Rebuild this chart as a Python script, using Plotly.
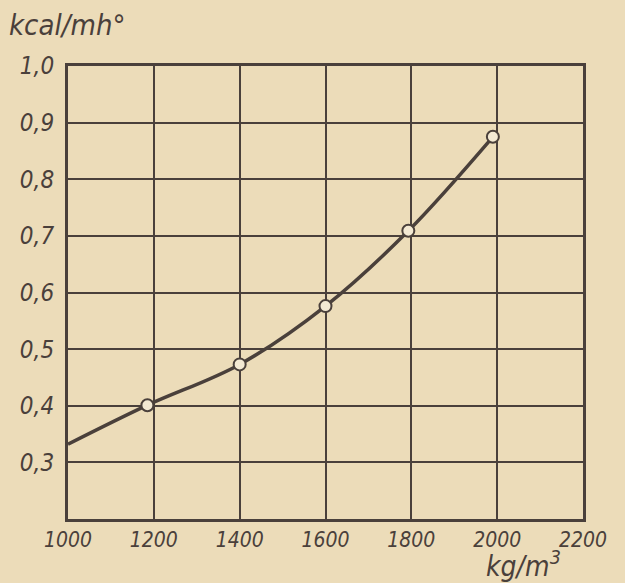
import plotly.graph_objects as go

# data
curve_x = [1000, 1185, 1400, 1600, 1793, 1990]
curve_y = [0.332, 0.401, 0.473, 0.576, 0.709, 0.875]
point_x = [1185, 1400, 1600, 1793, 1990]
point_y = [0.401, 0.473, 0.576, 0.709, 0.875]

x_ticks = [1000, 1200, 1400, 1600, 1800, 2000, 2200]
y_ticks = [0.3, 0.4, 0.5, 0.6, 0.7, 0.8, 0.9, 1.0]
y_labels = ["0,3", "0,4", "0,5", "0,6", "0,7", "0,8", "0,9", "1,0"]

paper = "#ecdcb9"
ink = "#4a403b"
font_family = "Liberation Sans Narrow, DejaVu Sans Condensed, Liberation Sans, sans-serif"

fig = go.Figure()
fig.add_trace(go.Scatter(
    x=curve_x, y=curve_y, mode="lines",
    line=dict(color=ink, width=3.5, shape="spline", smoothing=1.0),
    hoverinfo="skip", showlegend=False,
))
fig.add_trace(go.Scatter(
    x=point_x, y=point_y, mode="markers",
    marker=dict(symbol="circle", size=12, color="#f3e9d3",
                line=dict(color=ink, width=2)),
    showlegend=False,
))

fig.update_layout(
    width=625, height=583,
    paper_bgcolor=paper, plot_bgcolor=paper,
    margin=dict(l=68, r=42, t=66, b=64),
    font=dict(family=font_family, color=ink, size=20),
    xaxis=dict(
        range=[1000, 2200], tickvals=x_ticks,
        ticktext=[f"<i>{v}</i>" for v in x_ticks],
        showgrid=True, gridcolor=ink, gridwidth=1.5,
        showline=True, linecolor=ink, linewidth=3, mirror=True,
        zeroline=False, ticks="", ticklen=0,
        tickfont=dict(size=21, family=font_family, color=ink),
    ),
    yaxis=dict(
        range=[0.2, 1.0], tickvals=y_ticks,
        ticktext=[f"<i>{t}</i>" for t in y_labels],
        showgrid=True, gridcolor=ink, gridwidth=1.5,
        showline=True, linecolor=ink, linewidth=3, mirror=True,
        zeroline=False, ticks="", ticklen=0, ticklabelstandoff=6,
        tickfont=dict(size=24, family=font_family, color=ink),
    ),
    annotations=[
        dict(text="<i>kcal/mh°</i>", xref="paper", yref="paper",
             x=-0.118, y=1.048, xanchor="left", yanchor="bottom",
             showarrow=False, font=dict(size=29, family=font_family, color=ink)),
        dict(text="<i>kg/m<sup>3</sup></i>", xref="paper", yref="paper",
             x=0.885, y=-0.055, xanchor="center", yanchor="top",
             showarrow=False, font=dict(size=28, family=font_family, color=ink)),
    ],
)

fig.write_html(
    "out.html",
    config={"displayModeBar": False},
    post_script="document.body.style.margin='0';document.body.style.background='#ecdcb9';",
)
